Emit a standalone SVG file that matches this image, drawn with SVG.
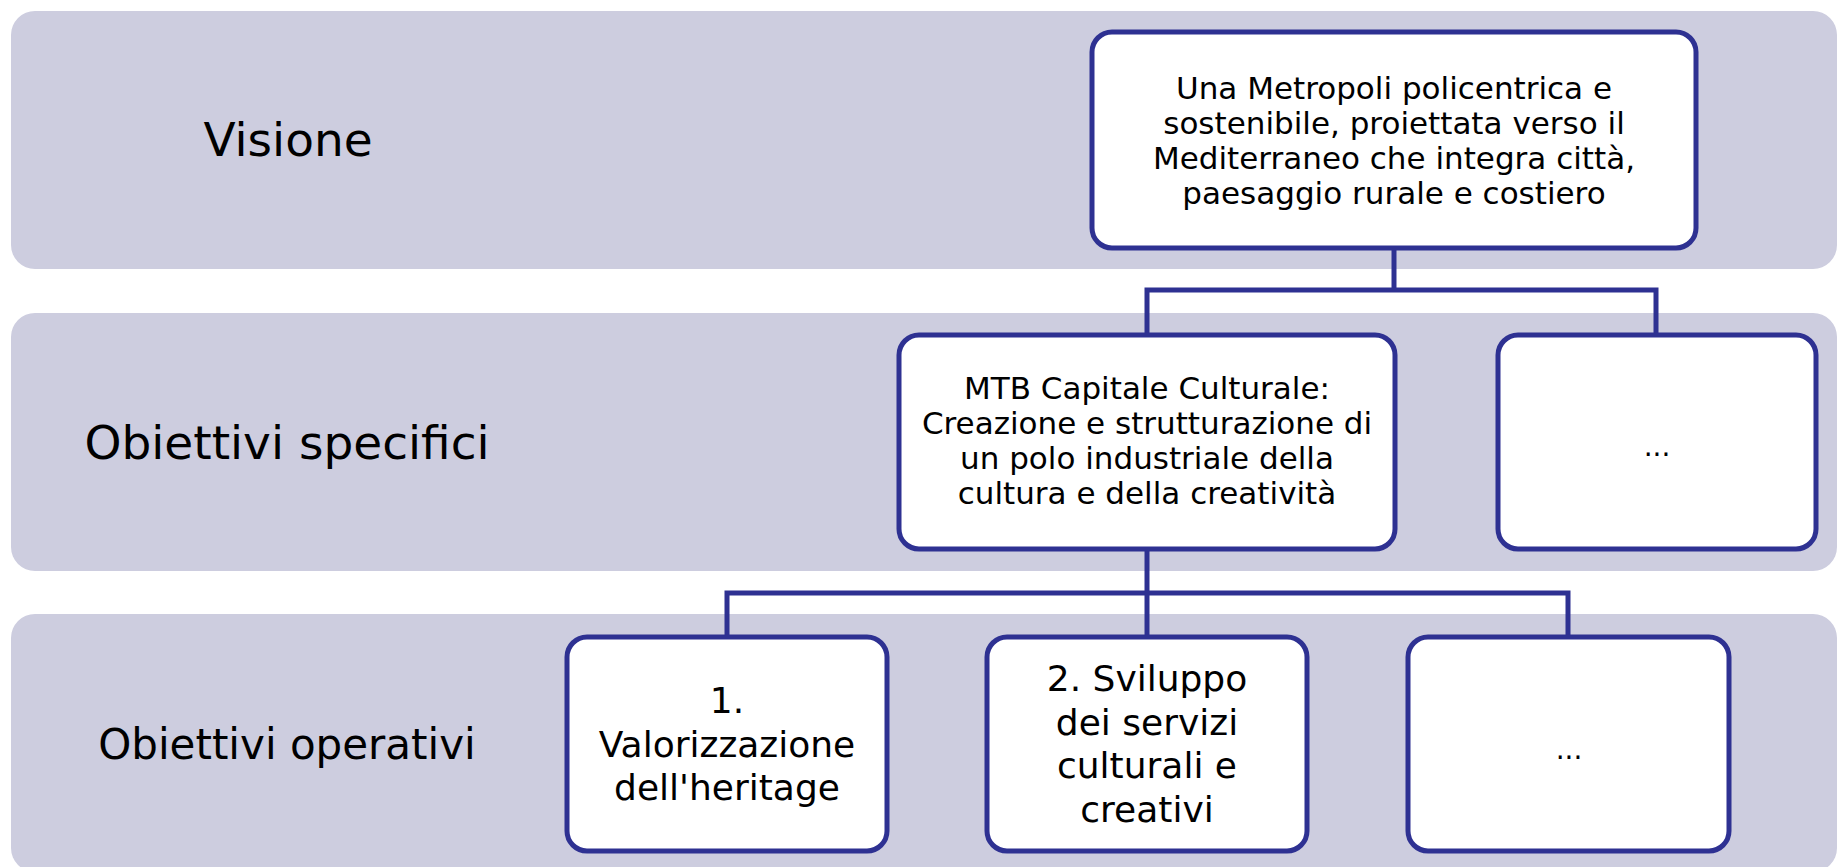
<svg xmlns="http://www.w3.org/2000/svg" width="1838" height="867" viewBox="0 0 1838 867">
<style>
.band{fill:#CDCDDF;}
.box{fill:#FFFFFF;stroke:#2E3192;stroke-width:5;}
.conn{fill:none;stroke:#2E3192;stroke-width:5;stroke-linejoin:miter;}
text{font-family:"DejaVu Sans","Verdana",sans-serif;fill:#000000;text-anchor:middle;}
.lbl{font-size:47px;}
.lbl2{font-size:42px;}
.t1{font-size:31px;}
.t2{font-size:36px;}
.dots{font-size:28px;}
</style>
<g id="bands">
<rect class="band" x="11" y="11" width="1826" height="258" rx="24"/>
<rect class="band" x="11" y="313" width="1826" height="258" rx="24"/>
<rect class="band" x="11" y="614" width="1826" height="258" rx="24"/>
</g>
<g id="row-labels">
<text class="lbl" x="288" y="156">Visione</text>
<text class="lbl" x="287" y="459">Obiettivi specifici</text>
<text class="lbl2" x="287" y="759">Obiettivi operativi</text>
</g>
<g id="connectors">
<polyline class="conn" points="1394,248 1394,290"/>
<polyline class="conn" points="1147,335 1147,290 1656,290 1656,335"/>
<polyline class="conn" points="1147,549 1147,593"/>
<polyline class="conn" points="727,637 727,593 1568,593 1568,637"/>
<polyline class="conn" points="1147,593 1147,637"/>
</g>
<g id="node-visione">
<rect class="box" x="1092" y="32" width="604" height="216" rx="20"/>
<text class="t1" x="1394" y="99">Una Metropoli policentrica e</text>
<text class="t1" x="1394" y="134">sostenibile, proiettata verso il</text>
<text class="t1" x="1394" y="169">Mediterraneo che integra città,</text>
<text class="t1" x="1394" y="204">paesaggio rurale e costiero</text>
</g>
<g id="node-mtb">
<rect class="box" x="899" y="335" width="496" height="214" rx="20"/>
<text class="t1" x="1147" y="399">MTB Capitale Culturale:</text>
<text class="t1" x="1147" y="434">Creazione e strutturazione di</text>
<text class="t1" x="1147" y="469">un polo industriale della</text>
<text class="t1" x="1147" y="504">cultura e della creatività</text>
</g>
<g id="node-spec-more">
<rect class="box" x="1498" y="335" width="318" height="214" rx="20"/>
<text class="dots" x="1657" y="456">...</text>
</g>
<g id="node-op1">
<rect class="box" x="567" y="637" width="320" height="214" rx="20"/>
<text class="t2" x="727" y="713">1.</text>
<text class="t2" x="727" y="757">Valorizzazione</text>
<text class="t2" x="727" y="800">dell'heritage</text>
</g>
<g id="node-op2">
<rect class="box" x="987" y="637" width="320" height="214" rx="20"/>
<text class="t2" x="1147" y="691">2. Sviluppo</text>
<text class="t2" x="1147" y="735">dei servizi</text>
<text class="t2" x="1147" y="778">culturali e</text>
<text class="t2" x="1147" y="822">creativi</text>
</g>
<g id="node-op-more">
<rect class="box" x="1408" y="637" width="321" height="214" rx="20"/>
<text class="dots" x="1569" y="759">...</text>
</g>
</svg>
